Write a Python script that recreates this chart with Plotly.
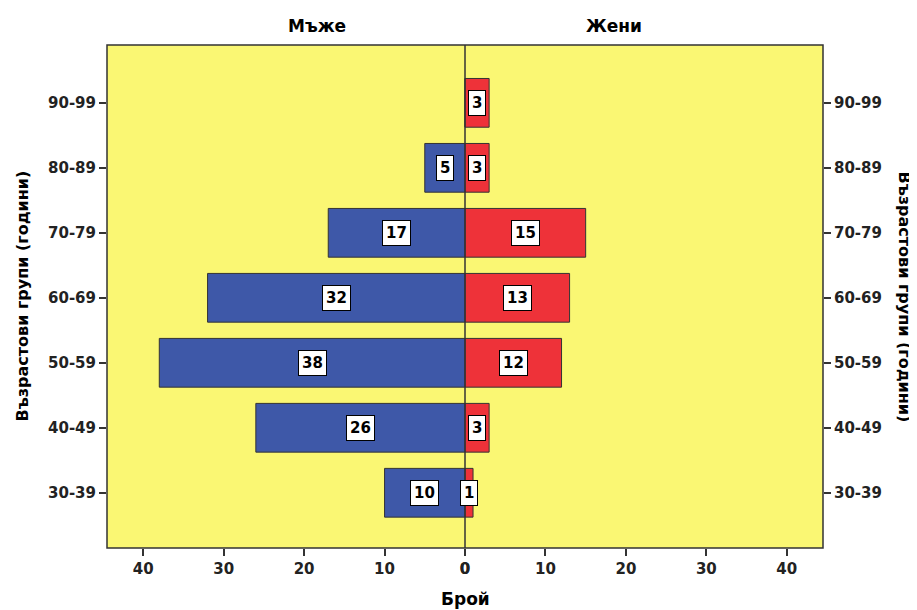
import plotly.graph_objects as go

categories = ["30-39", "40-49", "50-59", "60-69", "70-79", "80-89", "90-99"]
men = [10, 26, 38, 32, 17, 5, 0]
women = [1, 3, 12, 13, 15, 3, 3]
x_ticks = [0, 10, 20, 30, 40]

FONT = "DejaVu Sans, sans-serif"
BLUE = "#3E58A8"
RED = "#EE3239"
YELLOW = "#FAF773"
LINE = "#333333"

fig = go.Figure()
fig.add_trace(go.Bar(y=categories, x=men, orientation="h", xaxis="x", yaxis="y",
                     marker=dict(color=BLUE, line=dict(color=LINE, width=1)),
                     width=0.75, showlegend=False))
fig.add_trace(go.Bar(y=categories, x=women, orientation="h", xaxis="x2", yaxis="y2",
                     marker=dict(color=RED, line=dict(color=LINE, width=1)),
                     width=0.75, showlegend=False))

lab_font = dict(family=FONT, size=15, color="black")
annotations = []
for c, v in zip(categories, men):
    if v > 0:
        annotations.append(dict(x=v / 2, y=c, xref="x", yref="y", text=f"<b>{v}</b>",
                                showarrow=False, bgcolor="white", bordercolor="black",
                                borderwidth=1, borderpad=3, font=lab_font))
for c, v in zip(categories, women):
    if v > 0:
        annotations.append(dict(x=max(v / 2, 0.3), y=c, xref="x2", yref="y2", text=f"<b>{v}</b>",
                                showarrow=False, bgcolor="white", bordercolor="black",
                                borderwidth=1, borderpad=3, font=lab_font))

title_font = dict(family=FONT, size=17, color="black")
annotations += [
    dict(x=0.25, y=1.0, xref="paper", yref="paper", yshift=7, yanchor="bottom",
         text="<b>Мъже</b>", showarrow=False, font=title_font),
    dict(x=0.75, y=1.0, xref="paper", yref="paper", yshift=7, yanchor="bottom",
         text="<b>Жени</b>", showarrow=False, font=title_font),
    dict(x=0.5, y=0, xref="paper", yref="paper", yshift=-39, yanchor="top",
         text="<b>Брой</b>", showarrow=False, font=title_font),
    dict(x=1.0, y=0.5, xref="paper", yref="paper", xshift=81, xanchor="center",
         text="<b>Възрастови групи (години)</b>", textangle=90, showarrow=False,
         font=dict(family=FONT, size=16, color="black")),
    dict(x=0.0, y=0.5, xref="paper", yref="paper", xshift=-85, xanchor="center",
         text="<b>Възрастови групи (години)</b>", textangle=-90, showarrow=False,
         font=dict(family=FONT, size=16, color="black")),
]

axis_common = dict(showgrid=False, zeroline=False, ticks="outside", ticklen=7,
                   tickcolor=LINE, tickwidth=1.5, showline=False,
                   tickfont=dict(family=FONT, size=15, color="#222222"))

# page body adds an 8px offset; compensate so the plot area sits at x 107-822, y 45-548
fig.update_layout(
    width=909, height=602,
    margin=dict(l=99, r=94, t=37, b=62, autoexpand=False),
    paper_bgcolor="white", plot_bgcolor=YELLOW,
    xaxis=dict(domain=[0, 0.5], range=[44.5, 0], tickvals=x_ticks,
               ticktext=[f"<b>{t}</b>" for t in x_ticks], anchor="y", **axis_common),
    xaxis2=dict(domain=[0.5, 1], range=[0, 44.5], tickvals=x_ticks,
                ticktext=[f"<b>{t}</b>" for t in x_ticks], anchor="y2", **axis_common),
    yaxis=dict(range=[-0.85, 6.89], tickvals=categories,
               ticktext=[f"<b>{c}</b>" for c in categories], anchor="x",
               categoryorder="array", categoryarray=categories, **axis_common),
    yaxis2=dict(range=[-0.85, 6.89], tickvals=categories,
                ticktext=[f"<b>{c}</b>" for c in categories], anchor="x2", side="right",
                categoryorder="array", categoryarray=categories, **axis_common),
    annotations=annotations,
    shapes=[
        dict(type="rect", xref="paper", yref="paper", x0=0, x1=1, y0=0, y1=1,
             line=dict(color=LINE, width=1.5), fillcolor="rgba(0,0,0,0)", layer="above"),
        dict(type="line", xref="paper", yref="paper", x0=0.5, x1=0.5, y0=0, y1=1,
             line=dict(color=LINE, width=1.5), layer="above"),
    ],
)

fig.write_html("out.html")
